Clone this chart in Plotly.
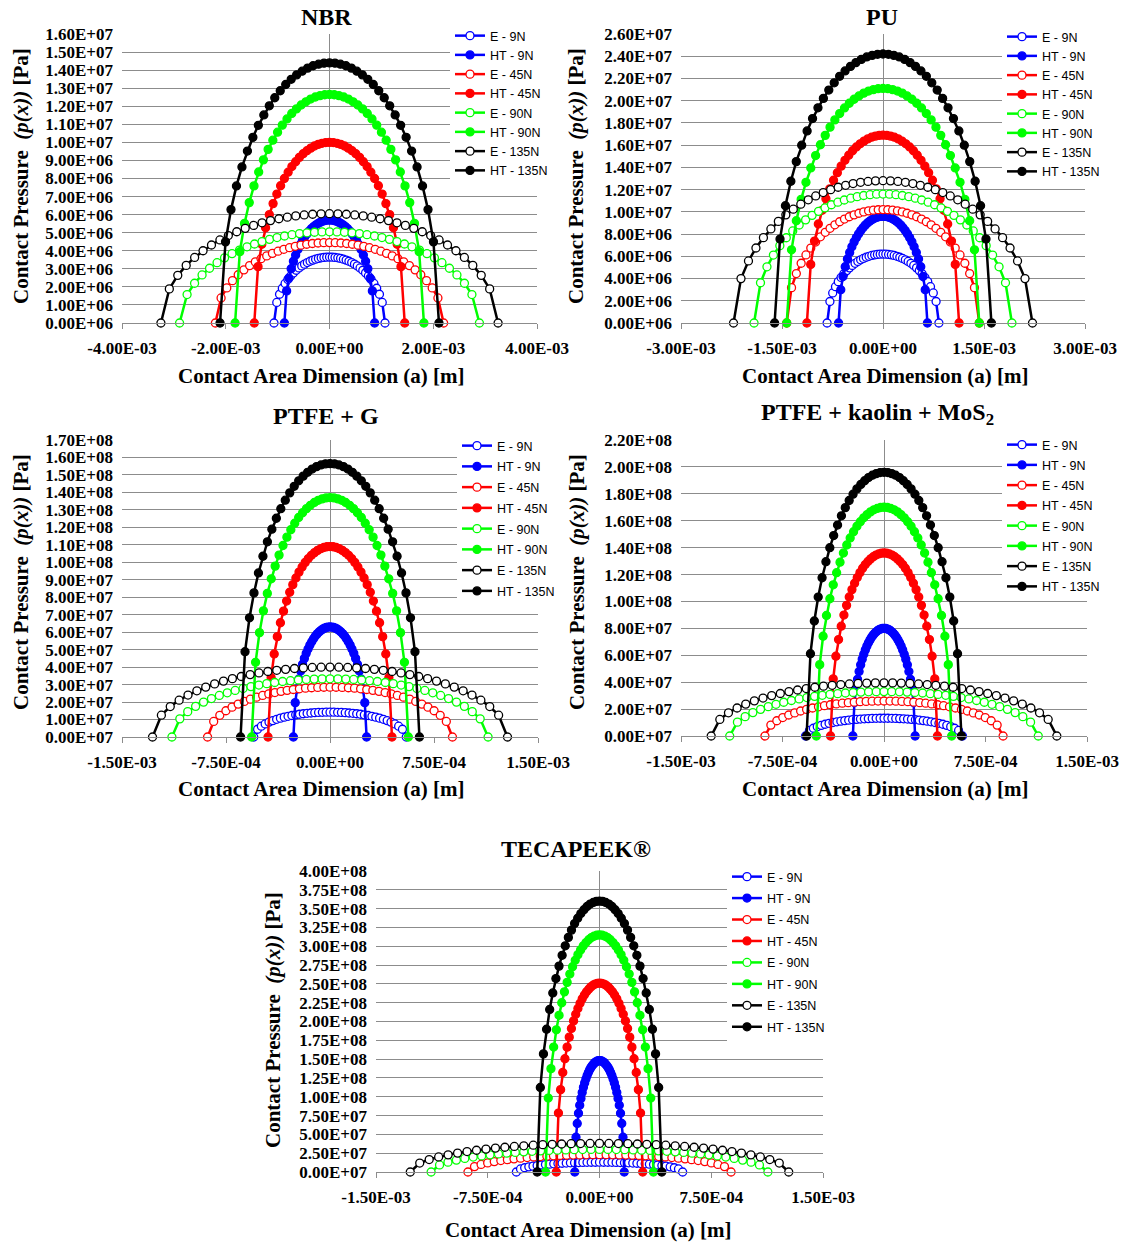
import plotly.graph_objects as go

W, H = 1121, 1244

# ---------------- data ----------------
SERIES_NAMES = ["E - 9N", "HT - 9N", "E - 45N", "HT - 45N",
                "E - 90N", "HT - 90N", "E - 135N", "HT - 135N"]
SERIES_COLORS = ["#0000FF", "#0000FF", "#FF0000", "#FF0000",
                 "#00FF00", "#00FF00", "#000000", "#000000"]
SERIES_FILLED = [False, True, False, True, False, True, False, True]

# marker positions across the contact width (fraction of half-width a)
POS_FRAC = [-1.00, -0.95, -0.90, -0.85, -0.80, -0.75, -0.70, -0.65, -0.60, -0.55,
            -0.50, -0.45, -0.40, -0.35, -0.30, -0.25, -0.20, -0.15, -0.10, -0.05,
            0.00, 0.05, 0.10, 0.15, 0.20, 0.25, 0.30, 0.35, 0.40, 0.45,
            0.50, 0.55, 0.60, 0.65, 0.70, 0.75, 0.80, 0.85, 0.90, 0.95, 1.00]
# pressure at those positions (fraction of peak pressure)
PROFILE = [0.000, 0.312, 0.436, 0.527, 0.600, 0.661, 0.714, 0.760, 0.800, 0.835,
           0.866, 0.893, 0.917, 0.937, 0.954, 0.968, 0.980, 0.989, 0.995, 0.999,
           1.000, 0.999, 0.995, 0.989, 0.980, 0.968, 0.954, 0.937, 0.917, 0.893,
           0.866, 0.835, 0.800, 0.760, 0.714, 0.661, 0.600, 0.527, 0.436, 0.312, 0.000]

# half contact widths a [m] and peak pressures [Pa] per series
NBR_HALF_WIDTH = [1.07e-3, 0.87e-3, 2.20e-3, 1.45e-3, 2.89e-3, 1.82e-3, 3.25e-3, 2.11e-3]
NBR_PEAK = [3.65e6, 5.70e6, 4.45e6, 1.00e7, 5.05e6, 1.265e7, 6.05e6, 1.44e7]

PU_HALF_WIDTH = [0.83e-3, 0.66e-3, 1.43e-3, 1.13e-3, 1.915e-3, 1.43e-3, 2.22e-3, 1.61e-3]
PU_PEAK = [6.20e6, 9.60e6, 1.02e7, 1.69e7, 1.16e7, 2.11e7, 1.28e7, 2.42e7]

PTFEG_HALF_WIDTH = [0.55e-3, 0.264e-3, 0.883e-3, 0.447e-3, 1.14e-3, 0.565e-3, 1.28e-3, 0.645e-3]
PTFEG_PEAK = [1.42e7, 6.30e7, 2.85e7, 1.09e8, 3.33e7, 1.37e8, 4.00e7, 1.565e8]

PTFEK_HALF_WIDTH = [0.58e-3, 0.23e-3, 0.88e-3, 0.395e-3, 1.14e-3, 0.50e-3, 1.277e-3, 0.572e-3]
PTFEK_PEAK = [1.32e7, 8.00e7, 2.60e7, 1.36e8, 3.30e7, 1.70e8, 3.95e7, 1.96e8]

PEEK_HALF_WIDTH = [0.558e-3, 0.166e-3, 0.883e-3, 0.29e-3, 1.13e-3, 0.362e-3, 1.27e-3, 0.418e-3]
PEEK_PEAK = [1.30e7, 1.48e8, 2.30e7, 2.51e8, 3.00e7, 3.15e8, 3.80e7, 3.60e8]

# axis ticks
X_TICKS_NBR = [-4e-3, -2e-3, 0.0, 2e-3, 4e-3]
X_LABELS_NBR = ["-4.00E-03", "-2.00E-03", "0.00E+00", "2.00E-03", "4.00E-03"]
X_TICKS_PU = [-3e-3, -1.5e-3, 0.0, 1.5e-3, 3e-3]
X_LABELS_PU = ["-3.00E-03", "-1.50E-03", "0.00E+00", "1.50E-03", "3.00E-03"]
X_TICKS_SMALL = [-1.5e-3, -7.5e-4, 0.0, 7.5e-4, 1.5e-3]
X_LABELS_SMALL = ["-1.50E-03", "-7.50E-04", "0.00E+00", "7.50E-04", "1.50E-03"]

Y_TICKS_NBR = [0, 1e6, 2e6, 3e6, 4e6, 5e6, 6e6, 7e6, 8e6, 9e6,
               1.0e7, 1.1e7, 1.2e7, 1.3e7, 1.4e7, 1.5e7, 1.6e7]
Y_LABELS_NBR = ["0.00E+06", "1.00E+06", "2.00E+06", "3.00E+06", "4.00E+06", "5.00E+06",
                "6.00E+06", "7.00E+06", "8.00E+06", "9.00E+06", "1.00E+07", "1.10E+07",
                "1.20E+07", "1.30E+07", "1.40E+07", "1.50E+07", "1.60E+07"]
Y_TICKS_PU = [0, 2e6, 4e6, 6e6, 8e6, 1.0e7, 1.2e7, 1.4e7, 1.6e7, 1.8e7,
              2.0e7, 2.2e7, 2.4e7, 2.6e7]
Y_LABELS_PU = ["0.00E+06", "2.00E+06", "4.00E+06", "6.00E+06", "8.00E+06", "1.00E+07",
               "1.20E+07", "1.40E+07", "1.60E+07", "1.80E+07", "2.00E+07", "2.20E+07",
               "2.40E+07", "2.60E+07"]
Y_TICKS_PTFEG = [0, 1e7, 2e7, 3e7, 4e7, 5e7, 6e7, 7e7, 8e7, 9e7,
                 1.0e8, 1.1e8, 1.2e8, 1.3e8, 1.4e8, 1.5e8, 1.6e8, 1.7e8]
Y_LABELS_PTFEG = ["0.00E+07", "1.00E+07", "2.00E+07", "3.00E+07", "4.00E+07", "5.00E+07",
                  "6.00E+07", "7.00E+07", "8.00E+07", "9.00E+07", "1.00E+08", "1.10E+08",
                  "1.20E+08", "1.30E+08", "1.40E+08", "1.50E+08", "1.60E+08", "1.70E+08"]
Y_TICKS_PTFEK = [0, 2e7, 4e7, 6e7, 8e7, 1.0e8, 1.2e8, 1.4e8, 1.6e8, 1.8e8, 2.0e8, 2.2e8]
Y_LABELS_PTFEK = ["0.00E+07", "2.00E+07", "4.00E+07", "6.00E+07", "8.00E+07", "1.00E+08",
                  "1.20E+08", "1.40E+08", "1.60E+08", "1.80E+08", "2.00E+08", "2.20E+08"]
Y_TICKS_PEEK = [0, 2.5e7, 5e7, 7.5e7, 1.0e8, 1.25e8, 1.5e8, 1.75e8, 2.0e8, 2.25e8,
                2.5e8, 2.75e8, 3.0e8, 3.25e8, 3.5e8, 3.75e8, 4.0e8]
Y_LABELS_PEEK = ["0.00E+07", "2.50E+07", "5.00E+07", "7.50E+07", "1.00E+08", "1.25E+08",
                 "1.50E+08", "1.75E+08", "2.00E+08", "2.25E+08", "2.50E+08", "2.75E+08",
                 "3.00E+08", "3.25E+08", "3.50E+08", "3.75E+08", "4.00E+08"]

PANEL_TITLES = ["NBR", "PU", "PTFE + G", "PTFE + kaolin + MoS<sub>2</sub>", "TECAPEEK®"]
X_TITLE = "Contact Area Dimension (a) [m]"
Y_TITLE = "Contact Pressure&nbsp;&nbsp;<i>(p(x))</i> [Pa]"

# ---------------- layout config (pixels) ----------------
panels = [
    dict(a=NBR_HALF_WIDTH, p=NBR_PEAK, xr=[-4e-3, 4e-3], xt=X_TICKS_NBR, xl=X_LABELS_NBR,
         yr=1.6e7, yt=Y_TICKS_NBR, yl=Y_LABELS_NBR,
         box=(122, 537, 34, 323), title=(326, 17), xtitle=(321, 376), ytitle=(21, 176),
         leg=(450, 21), gap=0),
    dict(a=PU_HALF_WIDTH, p=PU_PEAK, xr=[-3e-3, 3e-3], xt=X_TICKS_PU, xl=X_LABELS_PU,
         yr=2.6e7, yt=Y_TICKS_PU, yl=Y_LABELS_PU,
         box=(681, 1085, 34, 323), title=(882, 17), xtitle=(885, 376), ytitle=(576, 176),
         leg=(1002, 22), gap=0),
    dict(a=PTFEG_HALF_WIDTH, p=PTFEG_PEAK, xr=[-1.5e-3, 1.5e-3], xt=X_TICKS_SMALL, xl=X_LABELS_SMALL,
         yr=1.7e8, yt=Y_TICKS_PTFEG, yl=Y_LABELS_PTFEG,
         box=(122, 538, 440, 737), title=(326, 416), xtitle=(321, 789), ytitle=(21, 582),
         leg=(457, 431), gap=1.5),
    dict(a=PTFEK_HALF_WIDTH, p=PTFEK_PEAK, xr=[-1.5e-3, 1.5e-3], xt=X_TICKS_SMALL, xl=X_LABELS_SMALL,
         yr=2.2e8, yt=Y_TICKS_PTFEK, yl=Y_LABELS_PTFEK,
         box=(681, 1087, 440, 736), title=(877, 414), xtitle=(885, 789), ytitle=(577, 582),
         leg=(1002, 430), gap=1.0),
    dict(a=PEEK_HALF_WIDTH, p=PEEK_PEAK, xr=[-1.5e-3, 1.5e-3], xt=X_TICKS_SMALL, xl=X_LABELS_SMALL,
         yr=4.0e8, yt=Y_TICKS_PEEK, yl=Y_LABELS_PEEK,
         box=(376, 823, 871, 1172), title=(576, 849), xtitle=(588, 1230), ytitle=(273, 1020),
         leg=(727, 862), gap=2.2),
]

GRID = "#8c8c8c"
SERIF = "Liberation Serif"
tickfont = dict(family=SERIF, size=17, color="black", weight="bold")

fig = go.Figure()
layout = dict(width=W, height=H, margin=dict(l=0, r=0, t=0, b=0, autoexpand=False),
              paper_bgcolor="white", plot_bgcolor="white", showlegend=True,
              annotations=[])

for i, pn in enumerate(panels):
    k = "" if i == 0 else str(i + 1)
    for j in range(8):
        a = pn["a"][j]
        p0 = pn["p"][j]
        c = SERIES_COLORS[j]
        fig.add_trace(go.Scatter(
            x=[a * f for f in POS_FRAC],
            y=[p0 * v for v in PROFILE],
            mode="lines+markers",
            name=SERIES_NAMES[j],
            line=dict(color=c, width=2.5),
            marker=dict(symbol="circle", size=8,
                        color=c if SERIES_FILLED[j] else "white",
                        line=dict(color=c, width=1.3)),
            xaxis="x" + k, yaxis="y" + k,
            legend="legend" + k,
            legendgroup=f"g{i}_{j}",
            cliponaxis=False,
        ))
    x0, x1, yt, yb = pn["box"]
    layout["xaxis" + k] = dict(
        domain=[x0 / W, x1 / W], range=pn["xr"], anchor="y" + k,
        tickvals=pn["xt"], ticktext=pn["xl"], tickfont=tickfont,
        showgrid=False, zeroline=True, zerolinecolor=GRID, zerolinewidth=1,
        showline=True, linecolor=GRID, linewidth=1, automargin=False,
        ticks="outside", ticklen=5, tickcolor=GRID, ticklabelstandoff=5,
    )
    layout["yaxis" + k] = dict(
        domain=[1 - yb / H, 1 - yt / H], range=[0, pn["yr"]], anchor="x" + k,
        tickvals=pn["yt"], ticktext=pn["yl"], tickfont=tickfont,
        showgrid=True, gridcolor=GRID, gridwidth=1, zeroline=False, automargin=False,
        showline=False, ticks="", ticklabelstandoff=8,
    )
    lx, ly = pn["leg"]
    layout["legend" + k] = dict(
        x=lx / W, y=1 - ly / H, xanchor="left", yanchor="top",
        bgcolor="white", borderwidth=0, itemwidth=30,
        font=dict(family="Liberation Sans", size=12.5, color="black"),
        tracegroupgap=pn["gap"], traceorder="grouped",
    )
    tx, ty = pn["title"]
    layout["annotations"].append(dict(
        text="<b>" + PANEL_TITLES[i] + "</b>", x=tx / W, y=1 - ty / H,
        xref="paper", yref="paper", showarrow=False, xanchor="center", yanchor="middle",
        font=dict(family=SERIF, size=24, color="black")))
    ax_, ay_ = pn["xtitle"]
    layout["annotations"].append(dict(
        text="<b>" + X_TITLE + "</b>", x=ax_ / W, y=1 - ay_ / H,
        xref="paper", yref="paper", showarrow=False, xanchor="center", yanchor="middle",
        font=dict(family=SERIF, size=21, color="black")))
    bx, by = pn["ytitle"]
    layout["annotations"].append(dict(
        text="<b>" + Y_TITLE + "</b>", x=bx / W, y=1 - by / H, textangle=-90,
        xref="paper", yref="paper", showarrow=False, xanchor="center", yanchor="middle",
        font=dict(family=SERIF, size=21, color="black")))

fig.update_layout(**layout)
fig.write_html("out.html")
